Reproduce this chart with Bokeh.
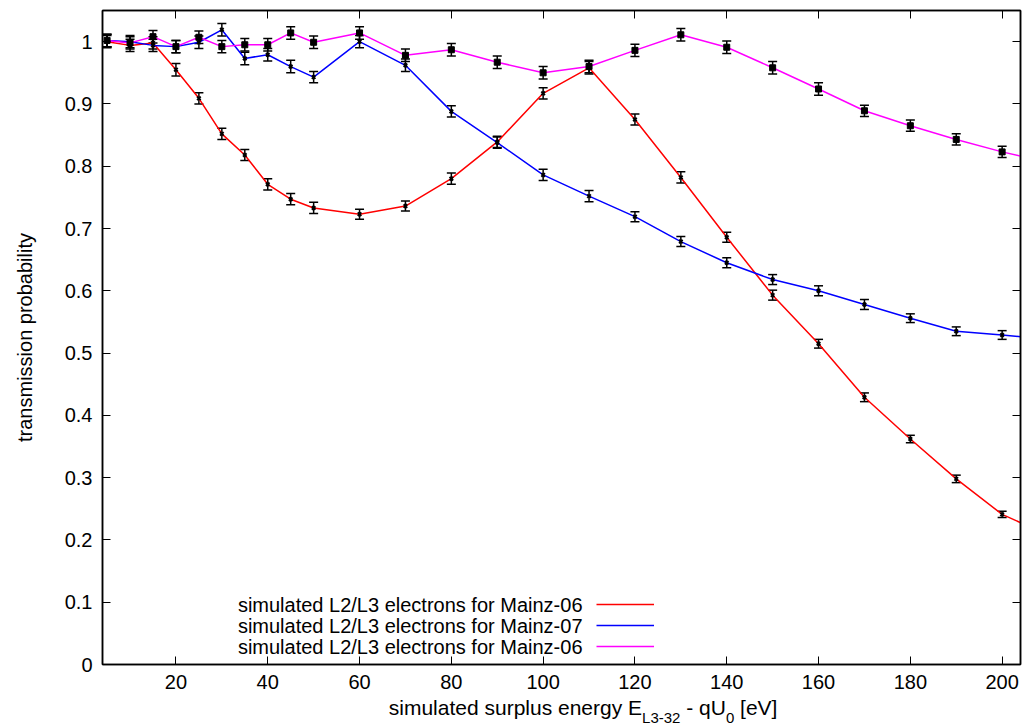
from bokeh.plotting import figure
from bokeh.models import (ColumnDataSource, Whisker, TeeHead, LinearAxis, FixedTicker,
                          Range1d, Legend, LegendItem, Label)
from bokeh.core.properties import value
from bokeh.embed import file_html
from bokeh.resources import INLINE

# ---------------- data ----------------
energy = [5, 10, 15, 20, 25, 30, 35, 40, 45, 50, 60, 70, 80, 90, 100, 110, 120,
          130, 140, 150, 160, 170, 180, 190, 200, 210]

mainz06 = [1.000, 0.994, 0.998, 0.955, 0.909, 0.852, 0.818, 0.771, 0.747, 0.733,
           0.723, 0.736, 0.780, 0.839, 0.917, 0.958, 0.875, 0.782, 0.686, 0.593,
           0.515, 0.429, 0.362, 0.298, 0.241, 0.208]
mainz06_err = [0.010, 0.010, 0.010, 0.010, 0.009, 0.009, 0.009, 0.009, 0.009, 0.009,
               0.008, 0.008, 0.009, 0.009, 0.009, 0.010, 0.009, 0.009, 0.008, 0.008,
               0.007, 0.007, 0.006, 0.006, 0.005, 0.005]

mainz07 = [1.002, 1.000, 0.994, 0.992, 0.999, 1.019, 0.973, 0.979, 0.960, 0.943,
           1.000, 0.962, 0.888, 0.838, 0.786, 0.752, 0.719, 0.679, 0.645, 0.618,
           0.600, 0.578, 0.556, 0.535, 0.529, 0.522]
mainz07_err = [0.010, 0.010, 0.010, 0.010, 0.010, 0.010, 0.010, 0.010, 0.010, 0.009,
               0.010, 0.010, 0.009, 0.009, 0.009, 0.009, 0.008, 0.008, 0.008, 0.008,
               0.008, 0.008, 0.007, 0.007, 0.007, 0.007]

mainz06b = [1.002, 0.998, 1.008, 0.992, 1.007, 0.992, 0.995, 0.995, 1.014, 0.999,
            1.014, 0.978, 0.987, 0.967, 0.950, 0.960, 0.986, 1.011, 0.991, 0.958,
            0.924, 0.889, 0.865, 0.843, 0.823, 0.806]
mainz06b_err = [0.010, 0.010, 0.010, 0.010, 0.010, 0.010, 0.010, 0.010, 0.010, 0.010,
                0.010, 0.010, 0.010, 0.010, 0.010, 0.010, 0.010, 0.010, 0.010, 0.010,
                0.010, 0.009, 0.009, 0.009, 0.009, 0.009]

legend_labels = ["simulated L2/L3 electrons for Mainz-06",
                 "simulated L2/L3 electrons for Mainz-07",
                 "simulated L2/L3 electrons for Mainz-06"]
colors = ["#ff0000", "#0000ff", "#ff00ff"]
markers = ["x", "x", "square"]

x_ticks = [20, 40, 60, 80, 100, 120, 140, 160, 180, 200]
y_ticks = [0, 0.1, 0.2, 0.3, 0.4, 0.5, 0.6, 0.7, 0.8, 0.9, 1]
y_tick_labels = ["0", "0.1", "0.2", "0.3", "0.4", "0.5", "0.6", "0.7", "0.8", "0.9", "1"]

x_title_main = ["simulated surplus energy E", "- qU", "[eV]"]
x_title_sub = ["L3-32", "0"]
y_title = "transmission probability"

FONT = "Liberation Sans"
FS = "20px"

# ---------------- figure ----------------
p = figure(frame_width=918, frame_height=654,
           min_border_left=102, min_border_right=3, min_border_top=10, min_border_bottom=60,
           x_range=Range1d(4, 204), y_range=Range1d(0, 1.05),
           output_backend="svg", toolbar_location=None)
p.grid.visible = False
p.outline_line_color = "black"
p.outline_line_width = 1.5
p.background_fill_color = "white"
p.border_fill_color = "white"

def style_axis(ax, show_labels):
    ax.axis_line_color = "black"
    ax.axis_line_width = 1.5
    ax.major_tick_in = 8
    ax.major_tick_out = 0
    ax.major_tick_line_color = "black"
    ax.major_tick_line_width = 1
    ax.minor_tick_line_color = None
    ax.major_label_text_font = FONT
    ax.major_label_text_color = "black"
    if show_labels:
        ax.major_label_text_font_size = FS
        ax.major_label_standoff = 10
    else:
        ax.major_label_text_font_size = "1px"
        ax.major_label_standoff = 0

xax = p.xaxis[0]
yax = p.yaxis[0]
xax.ticker = FixedTicker(ticks=x_ticks)
yax.ticker = FixedTicker(ticks=y_ticks)
yax.major_label_overrides = dict(zip(y_ticks, y_tick_labels))
style_axis(xax, True)
style_axis(yax, True)
yax.axis_label = y_title
yax.axis_label_text_font = FONT
yax.axis_label_text_font_size = FS
yax.axis_label_text_font_style = "normal"
yax.axis_label_text_color = "black"
yax.axis_label_standoff = 26

rax = LinearAxis(ticker=FixedTicker(ticks=y_ticks))
style_axis(rax, False)
rax.major_label_overrides = {t: "" for t in y_ticks}
p.add_layout(rax, "right")
tax = LinearAxis(ticker=FixedTicker(ticks=x_ticks))
style_axis(tax, False)
tax.major_label_overrides = {t: "" for t in x_ticks}
p.add_layout(tax, "above")

# ---------------- x-axis title (text pieces with subscripts) ----------------
# positions (in energy units) where each piece of the title is centred
main_pos = [93.96, 135.5, 146.98]
sub_pos = [125.74, 140.73]

def title_axis(positions, texts, size, standoff):
    ax = LinearAxis(ticker=FixedTicker(ticks=positions))
    ax.major_label_overrides = dict(zip(positions, texts))
    ax.axis_line_color = None
    ax.major_tick_line_color = None
    ax.minor_tick_line_color = None
    ax.major_tick_in = 0
    ax.major_tick_out = 0
    ax.major_label_text_font = FONT
    ax.major_label_text_font_size = size
    ax.major_label_text_color = "black"
    ax.major_label_standoff = standoff
    p.add_layout(ax, "below")
    return ax

title_axis(main_pos, x_title_main, "21px", 4)
title_axis(sub_pos, x_title_sub, "15px", -13)

# ---------------- series ----------------
series = [mainz06, mainz07, mainz06b]
errors = [mainz06_err, mainz07_err, mainz06b_err]
line_renderers = []
for vals, errs, col, mk in zip(series, errors, colors, markers):
    src = ColumnDataSource(dict(
        x=energy, y=vals,
        lower=[v - e for v, e in zip(vals, errs)],
        upper=[v + e for v, e in zip(vals, errs)]))
    r = p.line("x", "y", source=src, line_color=col, line_width=1.5)
    line_renderers.append(r)
    if mk == "square":
        p.scatter("x", "y", source=src, marker="square", size=6,
                  fill_color="black", line_color="black")
    else:
        p.scatter("x", "y", source=src, marker="x", size=5,
                  line_color="black", line_width=2)
    w = Whisker(source=src, base="x", lower="lower", upper="upper", dimension="height",
                line_color="black", line_width=1.5,
                upper_head=TeeHead(size=9, line_color="black", line_width=1.5),
                lower_head=TeeHead(size=9, line_color="black", line_width=1.5))
    p.add_layout(w)

# ---------------- legend (sample lines on the right of the texts) ----------------
legend = Legend(items=[LegendItem(label=value(""), renderers=[r]) for r in line_renderers],
                location=(494, 8), orientation="vertical",
                glyph_width=58, glyph_height=20, label_height=20, label_width=0,
                label_standoff=0, spacing=1, padding=0, margin=0,
                label_text_font_size="1px",
                border_line_alpha=0, background_fill_alpha=0)
p.add_layout(legend)
for i, txt in enumerate(legend_labels):
    p.add_layout(Label(x=480, y=60 - 21 * i, x_units="screen", y_units="screen",
                       text=txt, text_align="right", text_baseline="middle",
                       text_font=FONT, text_font_size=FS, text_color="black"))

open("out.html", "w").write(file_html(p, INLINE))
